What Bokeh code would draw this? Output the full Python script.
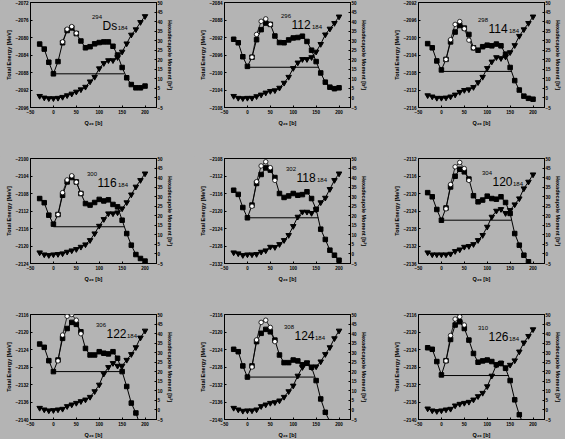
import math
from bokeh.plotting import figure
from bokeh.models import Range1d, LinearAxis, FixedTicker, Label, GlobalInlineStyleSheet
from bokeh.layouts import gridplot
from bokeh.embed import file_html
from bokeh.resources import INLINE

nan = float("nan")

# ---------------- data ----------------
q20 = [-30, -20, -10, 0, 10, 20, 30, 40, 50, 60, 70, 80, 90, 100, 110, 120,
       130, 140, 150, 160, 170, 180, 190, 200]

mass_numbers = ["294", "296", "298", "300", "302", "304", "306", "308", "310"]
element_labels = ["Ds", "112", "114", "116", "118", "120", "122", "124", "126"]
neutron_label = "184"

energy_axis_top = [-2072, -2084, -2092, -2100, -2108, -2112, -2116, -2116, -2116]
energy_axis_span = 24
energy_ticks_step = 4
x_ticks = [-50, 0, 50, 100, 150, 200]
q40_ticks = [-5, 0, 5, 10, 15, 20, 25, 30, 35, 40, 45, 50]

ground_energy = [-2088.3, -2098.8, -2107.75, -2115.6, -2121.55, -2126.1, -2129.05, -2130.3, -2129.95]
level_line_end = [155, 156, 154, 155, 155, 153, 155, 147, 147]

energy_294 = [-2081.5, -2082.65, -2085.65, -2088.3, -2085.5, -2081.2, -2078.4, -2077.8, -2079.1, -2080.8,
              -2082.35, -2082.1, -2081.45, -2081.15, -2081.0, -2081.0, -2082.0, -2084.0, -2086.85, -2089.2,
              -2090.75, -2091.5, -2091.5, -2091.1]
q40_294 = [1.0, 0.15, -0.2, -0.2, 0.0, 0.5, 1.35, 2.2, 3.25, 4.45, 5.8, 8.6, 11.0, 15.45, 18.2, 19.7,
           19.7, 21.3, 24.2, 28.5, 33.1, 35.9, 39.7, 42.8]
open_q20_294 = [20, 30, 40, 50]
open_energy_294 = [-2081.0, -2078.1, -2077.5, -2079.0]

energy_296 = [-2092.4, -2093.2, -2096.4, -2098.6, -2096.5, -2092.5, -2090.2, -2088.7, -2089.0, -2091.65,
              -2093.15, -2093.2, -2092.55, -2092.1, -2092.0, -2091.7, -2092.9, -2094.9, -2097.5, -2100.1,
              -2102.2, -2103.35, -2103.7, -2103.5]
q40_296 = [1.0, 0.0, -0.2, 0.0, 0.0, 0.85, 1.7, 2.75, 3.6, 3.95, 5.3, 7.9, 11.0, 15.6, 18.5, 20.3,
           20.3, 21.3, 24.2, 28.2, 33.2, 36.25, 39.2, 42.6]
open_q20_296 = [10, 20, 30, 40, 50]
open_energy_296 = [-2096.5, -2091.3, -2088.3, -2087.75, -2089.0]

energy_298 = [-2101.4, -2102.35, -2105.35, -2107.4, -2105.0, -2101.0, -2098.75, -2097.25, -2097.85, -2099.3,
              -2102.35, -2102.9, -2102.1, -2101.75, -2101.9, -2101.5, -2101.9, -2103.8, -2106.85, -2109.85,
              -2112.0, -2113.4, -2113.9, -2114.1]
q40_298 = [1.35, 0.7, 0.0, 0.0, 0.15, 0.7, 1.7, 3.1, 4.1, 4.45, 5.65, 8.2, 11.0, 15.6, 19.0, 21.3,
           20.8, 21.6, 23.9, 27.6, 32.45, 35.9, 39.2, 42.6]
open_q20_298 = [10, 20, 30, 40, 50, 60, 70]
open_energy_298 = [-2105.0, -2100.5, -2097.0, -2096.35, -2098.0, -2100.6, -2102.35]

energy_300 = [-2109.15, -2110.1, -2112.95, -2115.0, -2112.8, -2108.4, -2105.35, -2104.35, -2105.35, -2108.0,
              -2110.3, -2110.65, -2110.05, -2109.35, -2109.7, -2109.45, -2110.5, -2111.05, -2114.1, -2117.15,
              -2119.8, -2121.95, -2122.85, -2123.45]
q40_300 = [0.75, -0.3, -0.65, -0.3, -0.1, 0.25, 1.1, 1.8, 2.5, 3.7, 4.95, 7.2, 10.7, 14.7, 18.2, 21.2,
           21.2, 21.7, 23.8, 27.0, 31.1, 35.2, 38.65, 42.1]
open_q20_300 = [10, 20, 30, 40, 50, 60]
open_energy_300 = [-2112.8, -2107.8, -2104.9, -2103.95, -2105.4, -2108.0]

energy_302 = [-2115.25, -2116.2, -2119.2, -2121.55, -2118.65, -2113.7, -2111.65, -2110.15, -2110.65, -2112.35,
              -2116.0, -2116.9, -2116.55, -2116.0, -2116.4, -2116.25, -2115.6, -2117.15, -2119.6, -2124.15,
              -2126.5, -2128.95, -2130.1, -2131.25]
q40_302 = [0.75, 0.25, -0.65, -0.3, -0.3, -0.1, 1.1, 1.8, 3.7, 3.55, 5.1, 7.2, 9.85, 14.55, 19.45, 22.05,
           22.05, 21.4, 23.3, 27.0, 29.4, 33.95, 38.65, 42.1]
open_q20_302 = [10, 20, 30, 40, 50, 60]
open_energy_302 = [-2118.9, -2113.3, -2109.7, -2108.75, -2110.1, -2113.0]

energy_304 = [-2119.8, -2120.75, -2123.65, -2126.1, -2123.3, -2118.5, -2116.05, -2114.45, -2115.05, -2116.7,
              -2120.5, -2121.9, -2121.5, -2120.6, -2121.15, -2121.3, -2120.75, -2122.05, -2124.55, -2129.15,
              -2131.8, -2134.1, -2135.6, -2137.5]
q40_304 = [0.75, -0.3, -0.3, -0.3, -0.3, 0.05, 1.45, 2.3, 3.7, 4.1, 5.1, 7.2, 9.85, 14.2, 19.45, 22.6,
           23.45, 21.35, 22.95, 25.9, 29.05, 34.3, 37.8, 41.6]
open_q20_304 = [10, 20, 30, 40, 50, 60]
open_energy_304 = [-2123.5, -2117.95, -2113.9, -2112.9, -2114.3, -2117.0]

energy_306 = [-2122.75, -2123.5, -2126.55, -2129.05, -2126.4, -2121.45, -2119.2, -2117.8, -2118.25, -2119.95,
              -2123.75, -2125.25, -2125.25, -2124.5, -2124.85, -2125.0, -2124.5, -2126.0, -2129.05, -2132.45,
              -2136.25, -2138.5, -2141.5, nan]
q40_306 = [1.05, 0.2, -0.3, -0.15, 0.2, 0.55, 1.95, 2.8, 3.65, 4.55, 5.4, 6.8, 9.75, 13.2, 18.95, 22.4,
           24.5, 23.1, 23.1, 26.2, 29.2, 32.8, 37.85, 41.5]
open_q20_306 = [10, 20, 30, 40, 50, 60]
open_energy_306 = [-2126.6, -2120.7, -2116.4, -2116.0, -2117.3, -2120.4]

energy_308 = [-2123.95, -2124.5, -2127.75, -2130.3, -2127.75, -2122.2, -2120.3, -2119.4, -2119.95, -2121.85,
              -2125.25, -2127.0, -2127.0, -2126.4, -2126.6, -2127.5, -2127.15, -2128.05, -2131.1, -2135.3,
              -2138.35, -2140.5, nan, nan]
q40_308 = [1.05, 0.2, -0.5, -0.3, -0.3, 0.2, 1.95, 2.8, 3.65, 4.0, 4.9, 6.8, 9.75, 12.7, 17.9, 22.4,
           24.85, 22.4, 22.75, 25.35, 29.2, 32.8, 37.5, 41.5]
open_q20_308 = [10, 20, 30, 40, 50, 60]
open_energy_308 = [-2128.0, -2121.8, -2117.8, -2117.3, -2118.95, -2122.2]

energy_310 = [-2123.6, -2123.95, -2126.75, -2129.8, -2126.55, -2121.7, -2118.4, -2117.65, -2119.2, -2121.85,
              -2124.9, -2126.9, -2126.6, -2126.4, -2126.75, -2127.5, -2127.15, -2128.3, -2131.1, -2135.5,
              -2138.9, -2141.3, nan, nan]
q40_310 = [0.7, -0.3, -0.65, -0.3, 0.2, 0.55, 2.3, 3.15, 3.65, 4.2, 5.4, 7.15, 8.9, 12.35, 17.9, 23.6,
           24.5, 22.25, 23.6, 25.9, 30.55, 35.25, 38.7, 42.2]
open_q20_310 = [10, 20, 30, 40, 50]
open_energy_310 = [-2126.6, -2120.8, -2117.05, -2116.5, -2118.4]

energies = [energy_294, energy_296, energy_298, energy_300, energy_302, energy_304, energy_306, energy_308, energy_310]
q40s = [q40_294, q40_296, q40_298, q40_300, q40_302, q40_304, q40_306, q40_308, q40_310]
open_q20s = [open_q20_294, open_q20_296, open_q20_298, open_q20_300, open_q20_302, open_q20_304,
             open_q20_306, open_q20_308, open_q20_310]
open_energies = [open_energy_294, open_energy_296, open_energy_298, open_energy_300, open_energy_302,
                 open_energy_304, open_energy_306, open_energy_308, open_energy_310]

# ---------------- style / layout ----------------
BG = "#b4b4b4"
FONT = "Liberation Sans"
X_RANGE = (-50, 225)
FRAME_W, FRAME_H = 126, 105
BORDER_L = 30
COL_W = 194
BORDER_T = 2
ROW_H = 156
LAST_BOTTOM = 20
TOTAL_W = 565
LAST_RIGHT = TOTAL_W - 2 * COL_W - BORDER_L - FRAME_W

# label placement in screen px relative to frame (left, baseline-from-top)
label_dx_px = [72, 67, 70, 67, 72, 74, 76, 70, 70]
label_dy_px = [23, 22, 26, 24, 19, 23, 19, 21, 22]
EM = {"D": 0.722, "s": 0.5}


def text_width(t, size):
    return sum(EM.get(c, 0.556) for c in t) * size


def style_axis(ax, ticks, label_standoff, title_standoff):
    ax.ticker = FixedTicker(ticks=ticks)
    ax.major_label_text_font = FONT
    ax.major_label_text_font_size = "4.6px"
    ax.major_label_text_font_style = "bold"
    ax.major_label_text_color = "black"
    ax.axis_label_text_font = FONT
    ax.axis_label_text_font_size = "5.5px"
    ax.axis_label_text_font_style = "bold"
    ax.axis_label_text_color = "black"
    ax.major_tick_in = 2
    ax.major_tick_out = 0
    ax.minor_tick_in = 0
    ax.minor_tick_out = 0
    ax.major_tick_line_color = "black"
    ax.axis_line_color = "black"
    ax.major_label_standoff = label_standoff
    ax.axis_label_standoff = title_standoff


figs = []
for i in range(9):
    r, c = divmod(i, 3)
    top = energy_axis_top[i]
    bottom = top - energy_axis_span
    right_border = LAST_RIGHT if c == 2 else COL_W - BORDER_L - FRAME_W
    bottom_border = LAST_BOTTOM if r == 2 else ROW_H - BORDER_T - FRAME_H

    p = figure(frame_width=FRAME_W, frame_height=FRAME_H,
               x_range=Range1d(*X_RANGE), y_range=Range1d(bottom, top),
               output_backend="svg", toolbar_location=None,
               min_border_left=BORDER_L, min_border_right=right_border,
               min_border_top=BORDER_T, min_border_bottom=bottom_border,
               background_fill_color=BG, border_fill_color=BG,
               outline_line_color="black", outline_line_width=1,
               x_axis_label="Q\u2082\u2080 [b]", y_axis_label="Total Energy [MeV]")
    p.grid.visible = False
    p.extra_y_ranges = {"q40": Range1d(-5, 50)}

    style_axis(p.xaxis[0], x_ticks, 2, 3)
    style_axis(p.yaxis[0], list(range(bottom, top + 1, energy_ticks_step)), 2, 1)
    rax = LinearAxis(y_range_name="q40", axis_label="Hexadecapole Moment [b\u00b2]")
    style_axis(rax, q40_ticks, 1, 1)
    p.add_layout(rax, "right")

    # energy curve
    p.line(q20, energies[i], line_color="black", line_width=1)
    p.scatter(q20, energies[i], marker="square", size=4.5, fill_color="black", line_color="black")
    # alternative branch (open circles)
    p.line(open_q20s[i], open_energies[i], line_color="black", line_width=0.8)
    p.scatter(open_q20s[i], open_energies[i], marker="circle", size=4.5, fill_color="white",
              line_color="black", line_width=0.8)
    # hexadecapole moment
    p.line(q20, q40s[i], line_color="black", line_width=1, y_range_name="q40")
    p.scatter(q20, q40s[i], marker="inverted_triangle", size=5.5, fill_color="black",
              line_color="black", y_range_name="q40")
    # ground-state level line
    p.segment(x0=[0], y0=[ground_energy[i]], x1=[level_line_end[i]], y1=[ground_energy[i]],
              line_color="black", line_width=1)

    # nuclide label
    ax_x = X_RANGE[0] + label_dx_px[i] * (X_RANGE[1] - X_RANGE[0]) / FRAME_W
    ax_y = top - label_dy_px[i] * energy_axis_span / FRAME_H
    main_size = 12
    p.add_layout(Label(x=ax_x, y=ax_y, text=element_labels[i], text_font=FONT,
                       text_font_size=f"{main_size}px", text_align="left",
                       text_baseline="alphabetic", text_color="black"))
    p.add_layout(Label(x=ax_x, y=ax_y, text=mass_numbers[i], text_font=FONT,
                       text_font_size="6px", text_align="right", text_baseline="alphabetic",
                       x_offset=-0.5, y_offset=8.5, text_color="black"))
    p.add_layout(Label(x=ax_x, y=ax_y, text=neutron_label, text_font=FONT,
                       text_font_size="6px", text_align="left", text_baseline="alphabetic",
                       x_offset=text_width(element_labels[i], main_size) + 0.5, y_offset=-2,
                       text_color="black"))
    figs.append(p)

grid = gridplot([figs[0:3], figs[3:6], figs[6:9]], toolbar_location=None)
grid.stylesheets = [GlobalInlineStyleSheet(
    css=f"html, body {{ margin: 0; padding: 0; background: {BG}; overflow: hidden; }}")]

open("out.html", "w").write(file_html(grid, INLINE))
